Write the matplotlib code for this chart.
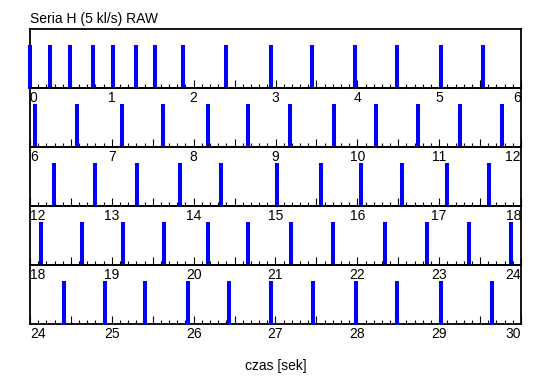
import numpy as np
import matplotlib
matplotlib.use("Agg")
import matplotlib.pyplot as plt

plt.rcParams['font.family'] = ['Liberation Sans', 'DejaVu Sans']

# spike times [s], one list per 6-second row
row1 = [0.0, 0.24, 0.49, 0.77, 1.02, 1.29, 1.53, 1.87, 2.39, 2.94, 3.44, 3.97, 4.49, 5.02, 5.53]
row2 = [6.06, 6.57, 7.12, 7.63, 8.18, 8.67, 9.18, 9.71, 10.23, 10.74, 11.26, 11.77]
row3 = [12.29, 12.79, 13.31, 13.83, 14.34, 15.02, 15.55, 16.04, 16.55, 17.09, 17.61]
row4 = [18.13, 18.63, 19.14, 19.64, 20.17, 20.66, 21.19, 21.70, 22.34, 22.85, 23.37, 23.88]
row5 = [24.42, 24.92, 25.41, 25.93, 26.43, 26.94, 27.46, 27.98, 28.48, 29.02, 29.64]
rows = [row1, row2, row3, row4, row5]
row_len = 6

fig = plt.figure(figsize=(5.5, 3.89), dpi=100)
gs = fig.add_gridspec(5, 1, left=30/550, right=521/550, top=1-29/389, bottom=1-324/389, hspace=0)

for i, spikes in enumerate(rows):
    ax = fig.add_subplot(gs[i])
    ax.set_facecolor('none')
    t0 = i * row_len
    ax.vlines(spikes, -0.03, 1.0, color='#0000ff', lw=2.9, clip_on=False, zorder=3)
    ax.set_xlim(t0, t0 + row_len)
    ax.set_ylim(0, 1.37)
    ax.set_yticks([])
    for s in ax.spines.values():
        s.set_linewidth(1.3)
    ticks = np.arange(t0, t0 + row_len + 0.01, 0.5)
    labels = [str(int(round(t))) if abs(t - round(t)) < 1e-6 else '' for t in ticks]
    texts = ax.set_xticks(ticks, labels)
    ax.set_xticks(np.arange(t0, t0 + row_len + 0.01, 0.1), minor=True)
    texts = ax.get_xticklabels()
    texts[0].set_horizontalalignment('left')
    texts[-1].set_horizontalalignment('right')
    ax.tick_params(axis='x', which='major', direction='in', length=5.5, width=0.8, pad=2, labelsize=10)
    ax.tick_params(axis='x', which='minor', direction='in', length=3, width=0.8)
    if i == 0:
        ax.set_title('Seria H (5 kl/s) RAW', loc='left', fontsize=10, pad=4)

fig.text(275.5/550, 1-366/389, 'czas [sek]', ha='center', va='center', fontsize=10)

fig.savefig('out.png', dpi=100)
